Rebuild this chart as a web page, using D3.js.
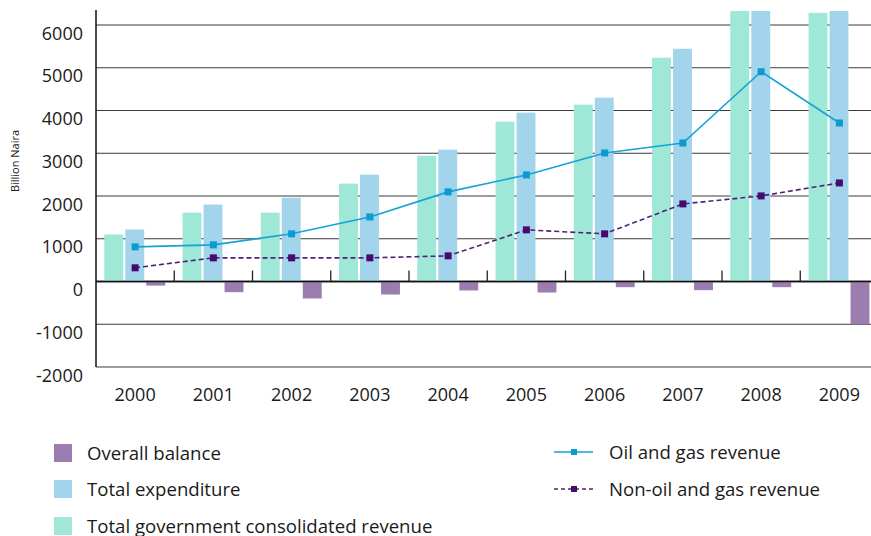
<!DOCTYPE html>
<html><head><meta charset="utf-8">
<script src="https://cdn.jsdelivr.net/npm/d3@7"></script>
<style>
html,body{margin:0;padding:0;background:#fff;}
svg{display:block;font-family:"Open Sans",Lato,sans-serif;}
</style></head>
<body><svg id="c" width="871" height="536"></svg>
<script>
const years = ["2000","2001","2002","2003","2004","2005","2006","2007","2008","2009"];
const revenue = [1100, 1610, 1610, 2290, 2944, 3738, 4136, 5234, 6330, 6285];
const expenditure = [1215, 1800, 1960, 2500, 3084, 3949, 4300, 5444, 6330, 6330];
const balance = [-95, -250, -397, -304, -210, -257, -133, -203, -133, -997];
const oilGas = [810, 857, 1115, 1510, 2096, 2493, 3007, 3240, 4907, 3708];
const nonOilGas = [320, 553, 553, 553, 600, 1208, 1115, 1815, 2002, 2306];
const yTicks = [-2000, -1000, 0, 1000, 2000, 3000, 4000, 5000, 6000];

const colors = {rev:"#9fe7d7", exp:"#a2d4ec", bal:"#9b7daf", oil:"#15a3d5", oilM:"#0a9bd0", non:"#4f2378", nonM:"#46096e"};

const svg = d3.select("#c");
const left = 96, plotTop = 10, right = 878.5;
const y = d3.scaleLinear().domain([-2000, 6000]).range([367, 25]);
const x = d3.scaleBand().domain(years).range([left, right]);
const sub = d3.scaleBand().domain(["rev","exp","bal"]).range([8.3, 69.2]).paddingInner(0.1);

svg.append("defs").append("clipPath").attr("id","pc")
  .append("rect").attr("x", left).attr("y", plotTop+1).attr("width", 871-left).attr("height", 400);

// grid
svg.append("g").selectAll("line").data(yTicks).join("line")
  .attr("x1", left).attr("x2", 871)
  .attr("y1", d => y(d)).attr("y2", d => y(d))
  .attr("stroke", d => d === 0 ? "#111" : "#3a3a3a").attr("stroke-width", d => d===0?1.6:1.2);

// tick labels
svg.append("g").selectAll("text").data(yTicks).join("text")
  .attr("x", 83).attr("y", d => y(d) + 14.5)
  .attr("text-anchor","end").attr("font-size", 18).attr("fill","#1a1a1a")
  .text(d => d);

// bars
const bars = svg.append("g").attr("clip-path","url(#pc)");
const series = [["rev", revenue], ["exp", expenditure], ["bal", balance]];
series.forEach(([k, vals]) => {
  bars.selectAll(null).data(vals).join("rect")
    .attr("x", (d,i) => x(years[i]) + sub(k))
    .attr("width", sub.bandwidth())
    .attr("y", d => y(Math.max(0,d)))
    .attr("height", d => Math.abs(y(d) - y(0)))
    .attr("fill", colors[k]);
});

// zero line on top
svg.append("line").attr("x1", left).attr("x2", 871).attr("y1", y(0)).attr("y2", y(0))
  .attr("stroke","#111").attr("stroke-width",1.6);

// category ticks
svg.append("g").selectAll("line").data(years.slice(1)).join("line")
  .attr("x1", d => x(d)).attr("x2", d => x(d))
  .attr("y1", y(0)-11).attr("y2", y(0))
  .attr("stroke","#222").attr("stroke-width",1.3);

// y axis line
svg.append("line").attr("x1", left).attr("x2", left).attr("y1", plotTop).attr("y2", y(-2000))
  .attr("stroke","#111").attr("stroke-width",1.5);

// x labels
svg.append("g").selectAll("text").data(years).join("text")
  .attr("x", d => x(d) + x.bandwidth()/2).attr("y", 401)
  .attr("text-anchor","middle").attr("font-size",18).attr("fill","#1a1a1a")
  .text(d => d);

// y title
svg.append("text").attr("transform","translate(19,161) rotate(-90)")
  .attr("text-anchor","middle").attr("font-size",11).attr("fill","#1a1a1a")
  .text("Billion Naira");

// lines
const cx = i => x(years[i]) + x.bandwidth()/2;
const lineGen = d3.line().x((d,i) => cx(i)).y(d => y(d));
svg.append("path").datum(oilGas).attr("d", lineGen).attr("fill","none")
  .attr("stroke", colors.oil).attr("stroke-width",1.6);
svg.append("path").datum(nonOilGas).attr("d", lineGen).attr("fill","none")
  .attr("stroke", colors.non).attr("stroke-width",1.6).attr("stroke-dasharray","5,3");
const ms = 7;
svg.append("g").selectAll("rect").data(oilGas).join("rect")
  .attr("x",(d,i)=>cx(i)-ms/2).attr("y",d=>y(d)-ms/2).attr("width",ms).attr("height",ms).attr("fill",colors.oilM);
svg.append("g").selectAll("rect").data(nonOilGas).join("rect")
  .attr("x",(d,i)=>cx(i)-ms/2).attr("y",d=>y(d)-ms/2).attr("width",ms).attr("height",ms).attr("fill",colors.nonM);

// legend left
const legL = [["Overall balance", colors.bal, 453], ["Total expenditure", colors.exp, 489], ["Total government consolidated revenue", colors.rev, 526]];
legL.forEach(([t,c,cy]) => {
  svg.append("rect").attr("x",54).attr("y",cy-9).attr("width",18).attr("height",18).attr("fill",c);
  svg.append("text").attr("x",87).attr("y",cy+6.5).attr("font-size",18.6).attr("fill","#1a1a1a").text(t);
});
// legend right
const legR = [["Oil and gas revenue", colors.oil, colors.oilM, null, 452], ["Non-oil and gas revenue", colors.non, colors.nonM, "4,3", 489]];
legR.forEach(([t,c,mc,dash,cy]) => {
  svg.append("line").attr("x1",554).attr("x2",593).attr("y1",cy).attr("y2",cy)
    .attr("stroke",c).attr("stroke-width",1.5).attr("stroke-dasharray",dash);
  svg.append("rect").attr("x",571).attr("y",cy-3).attr("width",6).attr("height",6).attr("fill",mc);
  svg.append("text").attr("x",609).attr("y",cy+6.5).attr("font-size",18.6).attr("fill","#1a1a1a").text(t);
});
</script></body></html>
